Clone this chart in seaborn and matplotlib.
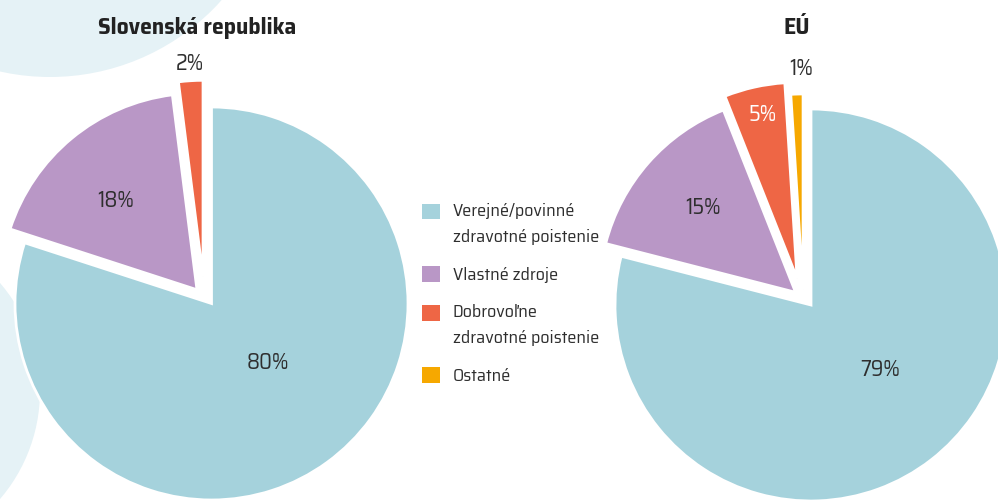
import matplotlib
matplotlib.use("Agg")
import numpy as np
import matplotlib.pyplot as plt
import matplotlib.patches as mpatches
from matplotlib.legend_handler import HandlerPatch
import seaborn as sns

# ---- data ----
categories = ["Verejné/povinné\nzdravotné poistenie", "Vlastné zdroje",
              "Dobrovoľne\nzdravotné poistenie", "Ostatné"]
sk_values = [80, 18, 2]
eu_values = [79, 15, 5, 1]
sk_labels = ["80%", "18%", "2%"]
eu_labels = ["79%", "15%", "5%", "1%"]
titles = ["Slovenská republika", "EÚ"]

colors = ["#a5d2dc", "#b997c6", "#ee6645", "#f6a800"]
text_col = "#2e2e2e"
bg_circle = "#e5f2f6"

sns.set_theme(style="white")
FONT = ["Saira SemiCondensed", "Roboto Condensed", "DejaVu Sans"]
plt.rcParams["font.family"] = FONT

W, H = 998, 500
fig = plt.figure(figsize=(W / 100, H / 100), dpi=100)
ax = fig.add_axes([0, 0, 1, 1])

# decorative background circles (pixel coords, y up)
ax.add_patch(mpatches.Circle((50, H + 153), 230, color=bg_circle, zorder=0, lw=0))
ax.add_patch(mpatches.Circle((-126, H - 391), 166, color=bg_circle, zorder=0, lw=0))

wp = dict(edgecolor="white", linewidth=2)


def draw_pie(values, cols, center, radius, offsets, offset_rot):
    wedges, _ = ax.pie(values, colors=cols, startangle=90, counterclock=False,
                       center=center, radius=radius, wedgeprops=wp, frame=True)
    for w, d, rot in zip(wedges, offsets, offset_rot):
        mid = np.deg2rad((w.theta1 + w.theta2) / 2 + rot)
        w.set_center((center[0] + d * np.cos(mid), center[1] + d * np.sin(mid)))
    return wedges


draw_pie(sk_values, colors[:3], (211.5, H - 303.5), 196.5, [0, 20, 28], [0, 7, 14])
draw_pie(eu_values, colors, (811, H - 305), 196, [0, 20, 30, 17], [0, 2, 15, 26])

# percentage labels
lab_fs = 16
sk_pos = [(268, 363), (116, 201), (190, 64)]
eu_pos = [(880, 370), (703, 208), (763, 115), (801, 69)]
for (x, y), t in zip(sk_pos, sk_labels):
    ax.text(x, H - y, t, ha="center", va="center", fontsize=lab_fs,
            color=text_col)
for (x, y), t, c in zip(eu_pos, eu_labels, [text_col, text_col, "white", text_col]):
    ax.text(x, H - y, t, ha="center", va="center", fontsize=lab_fs, color=c)

# titles
ax.text(197, H - 28, titles[0], ha="center", va="center", fontsize=17,
        fontweight="bold", color="#222222")
ax.text(797, H - 28, titles[1], ha="center", va="center", fontsize=17,
        fontweight="bold", color="#222222")

ax.set_xlim(0, W)
ax.set_ylim(0, H)
ax.set_aspect("equal")
ax.axis("off")

# legend: square handles aligned with the first text line
leg_fs = 13
line_pitch_pt = 26 * 72 / 100


def make_handler(nlines):
    shift = (nlines - 1) * line_pitch_pt / 2

    def f(legend, orig_handle, xdescent, ydescent, width, height, fontsize):
        return mpatches.Rectangle((-xdescent, -ydescent + shift), width, height)
    return HandlerPatch(patch_func=f)


handles = [mpatches.Patch(facecolor=c, edgecolor="none") for c in colors]
hmap = {h: make_handler(lab.count("\n") + 1) for h, lab in zip(handles, categories)}
leg = fig.legend(handles, categories, loc="upper left", handler_map=hmap,
                 bbox_to_anchor=(422 / W, 1 - 203 / H), frameon=False,
                 fontsize=leg_fs, handlelength=0.98, handleheight=0.98,
                 handletextpad=0.72, labelspacing=1.15, borderpad=0,
                 borderaxespad=0, labelcolor=text_col)
for t in leg.get_texts():
    t.set_linespacing(1.8)

fig.savefig("out.png", dpi=100)
